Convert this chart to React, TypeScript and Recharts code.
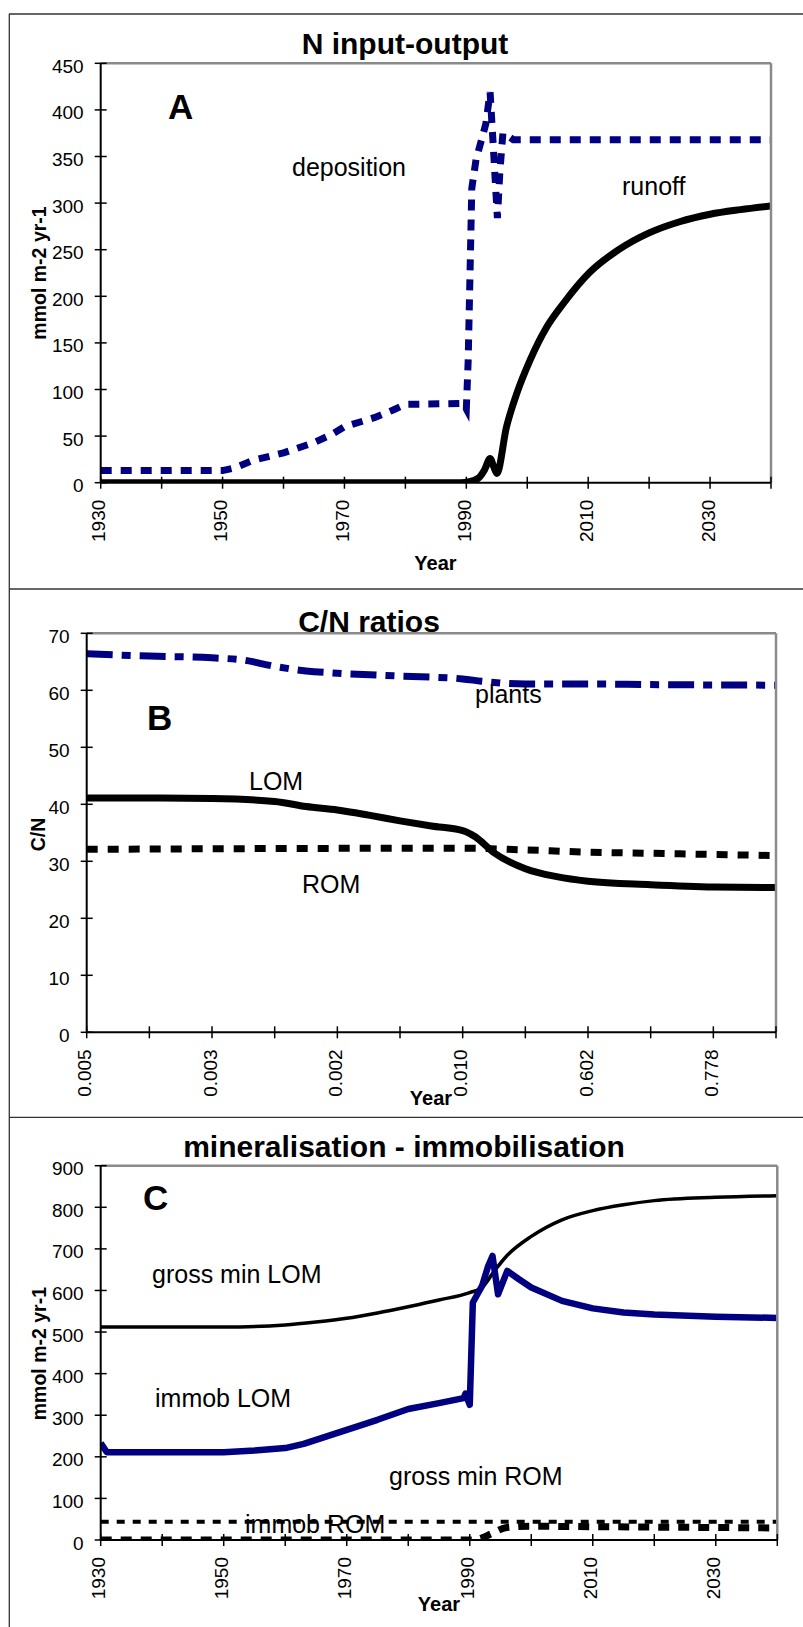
import React from "react";
import { LineChart, Line, XAxis, YAxis } from "recharts";

const FONT = '"Liberation Sans", Arial, sans-serif';
const NAVY = "#000080";

// x axis: one tick every 10 years, a label every 20 years
const yearTicks = [1930, 1940, 1950, 1960, 1970, 1980, 1990, 2000, 2010, 2020, 2030, 2040];
const yearLabels = ["1930", "1950", "1970", "1990", "2010", "2030"];
const cnYearLabels = ["0.005", "0.003", "0.002", "0.010", "0.602", "0.778"];

const inputTicks = [0, 50, 100, 150, 200, 250, 300, 350, 400, 450];
const cnTicks = [0, 10, 20, 30, 40, 50, 60, 70];
const mineralTicks = [0, 100, 200, 300, 400, 500, 600, 700, 800, 900];

// A - N input-output
const depositionYears = [1930, 1950, 1952, 1955, 1960, 1965, 1968, 1970, 1975, 1978, 1980, 1989.5, 1990, 1990.3, 1990.6, 1990.9, 1991.6, 1992.5, 1993.2, 1993.9, 1994.4, 1994.8, 1995.1, 1995.5, 1996, 1996.6, 1997.7, 2040];
const depositionValues = [13, 13, 16, 24, 32, 43, 52, 60, 70, 78, 84, 85, 79, 130, 222, 316, 347, 368, 385, 419, 364, 318, 284, 333, 375, 373, 368, 368];
const runoffYears = [1930, 1989, 1990.5, 1992, 1993, 1993.9, 1994.5, 1995, 1996.6, 1998.3, 2000.5, 2003.2, 2005.9, 2010.3, 2015, 2020, 2025, 2030, 2035, 2040];
const runoffValues = [0, 0, 1, 5, 14, 26, 17, 10, 60, 96, 132, 167, 192, 226, 250, 268, 280, 288, 293, 297];

// B - C/N ratios
const plantsYears = [1930, 1940, 1950, 1955, 1960, 1965, 1970, 1980, 1990, 1993, 2000, 2010, 2020, 2040];
const plantsValues = [66.4, 66.0, 65.7, 65.3, 64.2, 63.4, 63.0, 62.5, 62.0, 61.6, 61.1, 61.1, 61.0, 60.9];
const lomRatioYears = [1930, 1940, 1950, 1960, 1965, 1970, 1975, 1980, 1985, 1990, 1992, 1995, 2000, 2005, 2010, 2020, 2030, 2040];
const lomRatioValues = [41.1, 41.1, 41.0, 40.5, 39.6, 39.0, 38.1, 37.1, 36.2, 35.4, 34.3, 31.5, 28.7, 27.3, 26.5, 25.9, 25.5, 25.4];
const romRatioYears = [1930, 1990, 2000, 2010, 2020, 2030, 2040];
const romRatioValues = [32.1, 32.3, 32.0, 31.6, 31.4, 31.2, 31.0];

// C - mineralisation - immobilisation
const grossMinLomYears = [1930, 1950, 1960, 1965, 1970, 1975, 1980, 1985, 1990, 1992, 1994, 1996, 2000, 2005, 2010, 2015, 2020, 2030, 2040];
const grossMinLomValues = [512, 512, 517, 524, 533, 546, 561, 577, 595, 607, 647, 683, 730, 770, 792, 806, 816, 824, 828];
const immobLomYears = [1930, 1931, 1950, 1955, 1960, 1963, 1970, 1975, 1980, 1985, 1989, 1989.3, 1990, 1990.5, 1992, 1993, 1993.7, 1994.6, 1996.1, 1998, 2000, 2005, 2010, 2015, 2020, 2030, 2040];
const immobLomValues = [233, 211, 211, 215, 221, 231, 265, 289, 315, 329, 341, 352, 325, 571, 611, 659, 683, 591, 647, 627, 607, 575, 557, 547, 542, 537, 534];
const grossMinRomYears = [1930, 2040];
const grossMinRomValues = [44, 44];
const immobRomYears = [1930, 1990.5, 1992, 1993.5, 1996, 2000, 2010, 2020, 2030, 2040];
const immobRomValues = [0, 0, 5, 15, 30, 33, 32, 31, 30, 29];

const toRows = (years: number[], values: number[]) =>
	years.map((year, i) => ({ year, value: values[i] }));

const makeXTick = (labels: string[]) => (props: any) => {
	const { x, y, payload } = props;
	const k = (payload.value - 1930) / 20;
	const label = Number.isInteger(k) ? labels[k] : undefined;
	const lx = x + 4.5;
	const ly = y + 17;
	return (
		<g>
			<line x1={x} x2={x} y1={y - 6} y2={y + 6} stroke="#000" strokeWidth={1.5} />
			{label && (
				<text
					x={lx}
					y={ly}
					transform={`rotate(-90 ${lx} ${ly})`}
					textAnchor="end"
					fontSize={19}
					fontFamily={FONT}
					fill="#000"
				>
					{label}
				</text>
			)}
		</g>
	);
};

const YTick = (props: any) => {
	const { x, y, payload } = props;
	return (
		<g>
			<line x1={x - 6} x2={x + 6} y1={y} y2={y} stroke="#000" strokeWidth={1.5} />
			<text x={x - 17} y={y + 9.5} textAnchor="end" fontSize={19} fontFamily={FONT} fill="#000">
				{payload.value}
			</text>
		</g>
	);
};

const frameLine = { stroke: "#8a8a8a", strokeWidth: 2.5 };
const axisLine = { stroke: "#000", strokeWidth: 2 };

// plot box given in page pixels; axes take 1px each so margins are reduced by it
function Panel({
	top,
	height,
	box,
	yDomain,
	yTicks,
	xLabels,
	children,
}: {
	top: number;
	height: number;
	box: { left: number; right: number; top: number; bottom: number };
	yDomain: number[];
	yTicks: number[];
	xLabels: string[];
	children: React.ReactNode;
}) {
	const margin = {
		top: box.top - top - 1,
		bottom: top + height - box.bottom - 1,
		left: box.left - 1,
		right: 803 - box.right - 1,
	};
	return (
		<div style={{ position: "absolute", left: 0, top, width: 803, height }}>
			<LineChart width={803} height={height} margin={margin}>
				<XAxis
					xAxisId="frameTop"
					orientation="top"
					type="number"
					domain={[1930, 2040]}
					height={1}
					tick={false}
					tickLine={false}
					axisLine={frameLine}
				/>
				<YAxis
					yAxisId="frameRight"
					orientation="right"
					type="number"
					domain={yDomain}
					width={1}
					tick={false}
					tickLine={false}
					axisLine={frameLine}
				/>
				<XAxis
					dataKey="year"
					type="number"
					domain={[1930, 2040]}
					allowDataOverflow
					ticks={yearTicks}
					interval={0}
					height={1}
					tickSize={0}
					tickMargin={0}
					tickLine={false}
					axisLine={axisLine}
					tick={makeXTick(xLabels)}
				/>
				<YAxis
					type="number"
					domain={yDomain}
					allowDataOverflow
					ticks={yTicks}
					interval={0}
					width={1}
					tickSize={0}
					tickMargin={0}
					tickLine={false}
					axisLine={axisLine}
					tick={YTick}
				/>
				{children}
			</LineChart>
		</div>
	);
}

const txt = { fontFamily: FONT, fill: "#000" };

export default function App() {
	return (
		<div
			style={{
				position: "absolute",
				left: 0,
				top: 0,
				width: 803,
				height: 1627,
				background: "#fff",
				overflow: "hidden",
			}}
		>
			<Panel
				top={0}
				height={588}
				box={{ left: 100.7, right: 771, top: 63.3, bottom: 482.7 }}
				yDomain={[0, 450]}
				yTicks={inputTicks}
				xLabels={yearLabels}
			>
				<Line
					data={toRows(depositionYears, depositionValues)}
					dataKey="value"
					type="linear"
					stroke={NAVY}
					strokeWidth={7}
					strokeDasharray="11 9"
					dot={false}
					isAnimationActive={false}
				/>
				<Line
					data={toRows(runoffYears, runoffValues)}
					dataKey="value"
					type="monotone"
					stroke="#000"
					strokeWidth={7}
					dot={false}
					isAnimationActive={false}
				/>
			</Panel>

			<Panel
				top={589}
				height={528}
				box={{ left: 86.7, right: 776, top: 633.3, bottom: 1032.3 }}
				yDomain={[0, 70]}
				yTicks={cnTicks}
				xLabels={cnYearLabels}
			>
				<Line
					data={toRows(plantsYears, plantsValues)}
					dataKey="value"
					type="monotone"
					stroke={NAVY}
					strokeWidth={7}
					strokeDasharray="26 9 9 9"
					dot={false}
					isAnimationActive={false}
				/>
				<Line
					data={toRows(romRatioYears, romRatioValues)}
					dataKey="value"
					type="monotone"
					stroke="#000"
					strokeWidth={7}
					strokeDasharray="11 10"
					dot={false}
					isAnimationActive={false}
				/>
				<Line
					data={toRows(lomRatioYears, lomRatioValues)}
					dataKey="value"
					type="monotone"
					stroke="#000"
					strokeWidth={7}
					dot={false}
					isAnimationActive={false}
				/>
			</Panel>

			<Panel
				top={1117}
				height={510}
				box={{ left: 100.7, right: 777.3, top: 1165.7, bottom: 1540 }}
				yDomain={[0, 900]}
				yTicks={mineralTicks}
				xLabels={yearLabels}
			>
				<Line
					data={toRows(grossMinRomYears, grossMinRomValues)}
					dataKey="value"
					type="linear"
					stroke="#000"
					strokeWidth={4}
					strokeDasharray="8 8"
					dot={false}
					isAnimationActive={false}
				/>
				<Line
					data={toRows(immobRomYears, immobRomValues)}
					dataKey="value"
					type="monotone"
					stroke="#000"
					strokeWidth={7}
					strokeDasharray="11 9"
					dot={false}
					isAnimationActive={false}
				/>
				<Line
					data={toRows(grossMinLomYears, grossMinLomValues)}
					dataKey="value"
					type="monotone"
					stroke="#000"
					strokeWidth={3.5}
					dot={false}
					isAnimationActive={false}
				/>
				<Line
					data={toRows(immobLomYears, immobLomValues)}
					dataKey="value"
					type="linear"
					stroke={NAVY}
					strokeWidth={6.5}
					strokeLinejoin="round"
					dot={false}
					isAnimationActive={false}
				/>
			</Panel>

			<svg
				width={803}
				height={1627}
				style={{ position: "absolute", left: 0, top: 0, pointerEvents: "none" }}
			>
				{/* panel borders */}
				<line x1={9.3} x2={9.3} y1={14} y2={1627} stroke="#333" strokeWidth={1.3} />
				<line x1={9} x2={803} y1={14} y2={14} stroke="#333" strokeWidth={1.3} />
				<line x1={9} x2={803} y1={589} y2={589} stroke="#333" strokeWidth={1.3} />
				<line x1={9} x2={803} y1={1117.3} y2={1117.3} stroke="#333" strokeWidth={1.3} />

				{/* titles */}
				<text x={405} y={53.6} textAnchor="middle" fontSize={30} fontWeight="bold" {...txt}>
					N input-output
				</text>
				<text x={369} y={632} textAnchor="middle" fontSize={30} fontWeight="bold" {...txt}>
					C/N ratios
				</text>
				<text x={404} y={1156.5} textAnchor="middle" fontSize={30} fontWeight="bold" {...txt}>
					mineralisation - immobilisation
				</text>

				{/* axis titles */}
				<text x={46} y={273} transform="rotate(-90 46 273)" textAnchor="middle" fontSize={19.5} fontWeight="bold" {...txt}>
					mmol m-2 yr-1
				</text>
				<text x={45} y={834.5} transform="rotate(-90 45 834.5)" textAnchor="middle" fontSize={19.5} fontWeight="bold" {...txt}>
					C/N
				</text>
				<text x={46} y={1353.6} transform="rotate(-90 46 1353.6)" textAnchor="middle" fontSize={19.5} fontWeight="bold" {...txt}>
					mmol m-2 yr-1
				</text>
				<text x={435.5} y={570} textAnchor="middle" fontSize={20} fontWeight="bold" {...txt}>
					Year
				</text>
				<text x={431} y={1105} textAnchor="middle" fontSize={20} fontWeight="bold" {...txt}>
					Year
				</text>
				<text x={439} y={1611} textAnchor="middle" fontSize={20} fontWeight="bold" {...txt}>
					Year
				</text>

				{/* panel letters */}
				<text x={168} y={119.3} fontSize={35} fontWeight="bold" {...txt}>A</text>
				<text x={147} y={730} fontSize={35} fontWeight="bold" {...txt}>B</text>
				<text x={143} y={1210} fontSize={35} fontWeight="bold" {...txt}>C</text>

				{/* series annotations */}
				<text x={292} y={176} fontSize={25} {...txt}>deposition</text>
				<text x={622} y={195} fontSize={25} {...txt}>runoff</text>
				<text x={475} y={703} fontSize={25} {...txt}>plants</text>
				<text x={249} y={790} fontSize={25} {...txt}>LOM</text>
				<text x={302} y={892.5} fontSize={25} {...txt}>ROM</text>
				<text x={152} y={1282.5} fontSize={25} {...txt}>gross min LOM</text>
				<text x={155} y={1406.7} fontSize={25} {...txt}>immob LOM</text>
				<text x={389} y={1485} fontSize={25} {...txt}>gross min ROM</text>
				<text x={245} y={1533} fontSize={25} {...txt}>immob ROM</text>
			</svg>
		</div>
	);
}
